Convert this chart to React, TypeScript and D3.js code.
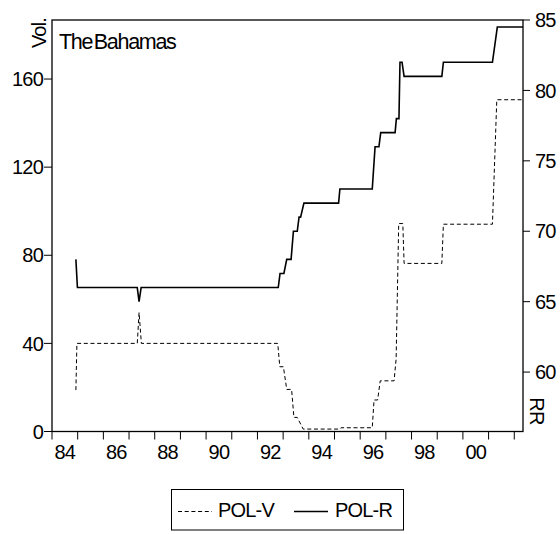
import React from "react";
import * as d3 from "d3";

// ---- data ----
const polRTime = [1984.93, 1984.99, 1987.32, 1987.39, 1987.47, 1992.81, 1992.88, 1993.03, 1993.14, 1993.31, 1993.40, 1993.55, 1993.62, 1993.68, 1993.81, 1995.16, 1995.21, 1996.47, 1996.58, 1996.73, 1996.80, 1997.36, 1997.41, 1997.51, 1997.55, 1997.63, 1997.71, 1999.18, 1999.24, 2001.15, 2001.34, 2002.34];
const polRValue = [68.0, 66.0, 66.0, 65.0, 66.0, 66.0, 67.0, 67.0, 68.0, 68.0, 70.0, 70.0, 71.0, 71.0, 72.0, 72.0, 73.0, 73.0, 76.0, 76.0, 77.0, 77.0, 78.0, 78.0, 82.0, 82.0, 81.0, 81.0, 82.0, 82.0, 84.5, 84.5];

const polVTime = [1984.93, 1984.97, 1987.32, 1987.39, 1987.48, 1992.79, 1992.87, 1993.01, 1993.14, 1993.33, 1993.42, 1993.55, 1993.78, 1995.21, 1995.25, 1996.47, 1996.54, 1996.68, 1996.78, 1997.32, 1997.40, 1997.50, 1997.66, 1997.71, 1999.18, 1999.24, 2001.15, 2001.32, 2002.34];
const polVValue = [18.8, 40, 40, 54, 40, 40, 29.4, 29.4, 19.1, 19.1, 6.4, 6.4, 1.1, 1.1, 1.7, 1.7, 14.3, 14.3, 23, 23, 33, 94.4, 94.4, 76.3, 76.3, 94.1, 94.1, 150.6, 150.6];

const xTickYears = d3.range(1984, 2003);
const xLabelYears = [1984, 1986, 1988, 1990, 1992, 1994, 1996, 1998, 2000];
const xLabels = ["84", "86", "88", "90", "92", "94", "96", "98", "00"];
const leftTicks = [0, 40, 80, 120, 160];
const rightTicks = [60, 65, 70, 75, 80, 85];

const title = "The Bahamas";
const leftAxisTitle = "Vol.";
const rightAxisTitle = "RR";
const seriesNames = ["POL-V", "POL-R"];

export default function App() {
  const L = 52, R = 523, T = 20, B = 431.5;
  const x = d3.scaleLinear().domain([1984, 2002.34]).range([L, R]);
  const yL = d3.scaleLinear().domain([0, 186.8]).range([B, T]);
  const yR = d3.scaleLinear().domain([55.78, 85]).range([B, T]);

  const lineR = d3
    .line<number>()
    .x((_, i) => x(polRTime[i]))
    .y((d) => yR(d));
  const lineV = d3
    .line<number>()
    .x((_, i) => x(polVTime[i]))
    .y((d) => yL(d));

  const font = "'Liberation Sans', Arial, sans-serif";
  const fs = 20;
  const ls = -0.8;

  return (
    <svg
      width={560}
      height={534}
      style={{ position: "absolute", left: 0, top: 0, background: "#fff" }}
      fontFamily={font}
    >
      <rect x={0} y={0} width={560} height={534} fill="#fff" />
      {/* series */}
      <path d={lineV(polVValue) || ""} fill="none" stroke="#000" strokeWidth={1} strokeDasharray="4,2.7" />
      <path d={lineR(polRValue) || ""} fill="none" stroke="#000" strokeWidth={1.6} />

      {/* frame */}
      <rect x={L} y={T} width={R - L} height={B - T} fill="none" stroke="#000" strokeWidth={1.3} />

      {/* left axis */}
      {leftTicks.map((v) => (
        <g key={"l" + v}>
          <line x1={L - 8} x2={L} y1={yL(v)} y2={yL(v)} stroke="#000" strokeWidth={1} />
          <text x={L - 9} y={yL(v)} dy="0.36em" textAnchor="end" fontSize={fs} letterSpacing={ls}>
            {v}
          </text>
        </g>
      ))}
      {/* right axis */}
      {rightTicks.map((v) => (
        <g key={"r" + v}>
          <line x1={R} x2={R + 7} y1={yR(v)} y2={yR(v)} stroke="#000" strokeWidth={1} />
          <text x={R + 12} y={yR(v)} dy="0.36em" textAnchor="start" fontSize={fs} letterSpacing={ls}>
            {v}
          </text>
        </g>
      ))}
      {/* bottom axis */}
      {xTickYears.map((yr) => (
        <line key={"t" + yr} x1={x(yr)} x2={x(yr)} y1={B} y2={B + 8} stroke="#000" strokeWidth={1} />
      ))}
      {xLabelYears.map((yr, i) => (
        <text key={"xl" + yr} x={x(yr + 0.5)} y={B + 27} textAnchor="middle" fontSize={fs} letterSpacing={ls}>
          {xLabels[i]}
        </text>
      ))}

      {/* titles */}
      <text x={59} y={49} fontSize={21.5} letterSpacing={-1.3} wordSpacing={-3}>
        {title}
      </text>
      <text
        transform={`translate(46,33) rotate(-90)`}
        textAnchor="middle"
        fontSize={fs}
        letterSpacing={ls}
      >
        {leftAxisTitle}
      </text>
      <text
        transform={`translate(530,411) rotate(90)`}
        textAnchor="middle"
        fontSize={fs}
        letterSpacing={ls}
      >
        {rightAxisTitle}
      </text>

      {/* legend */}
      <rect x={171.5} y={489.5} width={232} height={40.5} fill="none" stroke="#000" strokeWidth={1} />
      <line x1={178} x2={212} y1={511.5} y2={511.5} stroke="#000" strokeWidth={1} strokeDasharray="4,2.7" />
      <text x={218} y={517} fontSize={fs} letterSpacing={ls}>
        {seriesNames[0]}
      </text>
      <line x1={294} x2={328} y1={511.5} y2={511.5} stroke="#000" strokeWidth={1.3} />
      <text x={335} y={517} fontSize={fs} letterSpacing={ls}>
        {seriesNames[1]}
      </text>
    </svg>
  );
}
